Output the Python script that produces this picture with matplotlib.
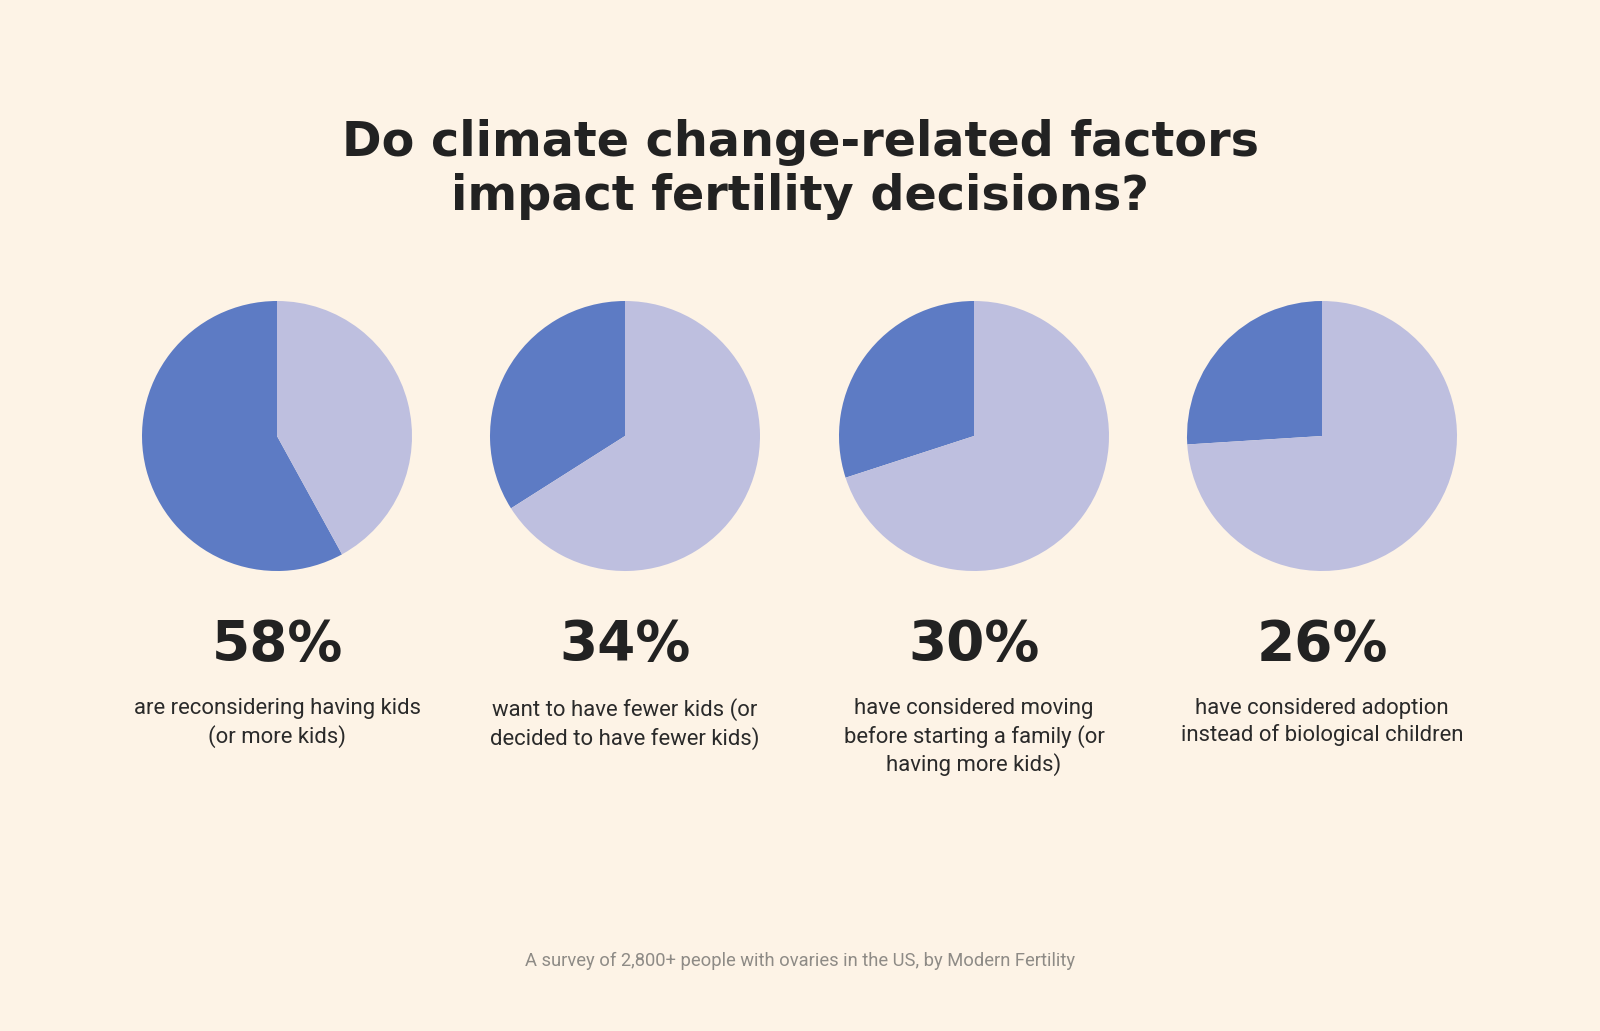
import matplotlib
matplotlib.use('Agg')
import matplotlib.pyplot as plt

# data
shares = [58, 34, 30, 26]
pct_labels = ['58%', '34%', '30%', '26%']
descriptions = [
    'are reconsidering having kids\n(or more kids)',
    'want to have fewer kids (or\ndecided to have fewer kids)',
    'have considered moving\nbefore starting a family (or\nhaving more kids)',
    'have considered adoption\ninstead of biological children',
]
title = 'Do climate change-related factors\nimpact fertility decisions?'
footer = 'A survey of 2,800+ people with ovaries in the US, by Modern Fertility'

bg = '#fdf3e6'
dark = '#5d7bc4'
light = '#bebfdf'
ink = '#222222'

W, H = 1600, 1031
fig = plt.figure(figsize=(W / 100, H / 100), dpi=100, facecolor=bg)

centers_x = [277, 625, 974, 1322]
cy = 436
r = 135

for i, s in enumerate(shares):
    cx = centers_x[i]
    ax = fig.add_axes([(cx - r) / W, (H - cy - r) / H, 2 * r / W, 2 * r / H])
    ax.pie([s, 100 - s], colors=[dark, light], startangle=90, counterclock=True,
           wedgeprops=dict(linewidth=0))
    ax.set_xlim(-1, 1)
    ax.set_ylim(-1, 1)
    ax.set_aspect('equal')
    ax.axis('off')

    # big percentage + caption under each pie
    fig.text(cx / W, 1 - 645 / H, pct_labels[i], ha='center', va='center',
             fontsize=39.5, fontweight='bold', family='DejaVu Sans', color=ink)
    fig.text(cx / W, 1 - 698 / H, descriptions[i], ha='center', va='top',
             fontsize=15.9, family='Roboto', fontweight='normal', color='#2a2a2a',
             linespacing=1.31)

fig.text(0.5, 1 - 169.5 / H, title, ha='center', va='center', fontsize=34.4,
         fontweight='bold', family='DejaVu Sans', color=ink, linespacing=1.21)

fig.text(0.5, 1 - 961 / H, footer, ha='center', va='center', fontsize=13.2,
         family='Roboto', fontweight='normal', color='#8e8b86')

fig.savefig('out.png', dpi=100, facecolor=bg)
